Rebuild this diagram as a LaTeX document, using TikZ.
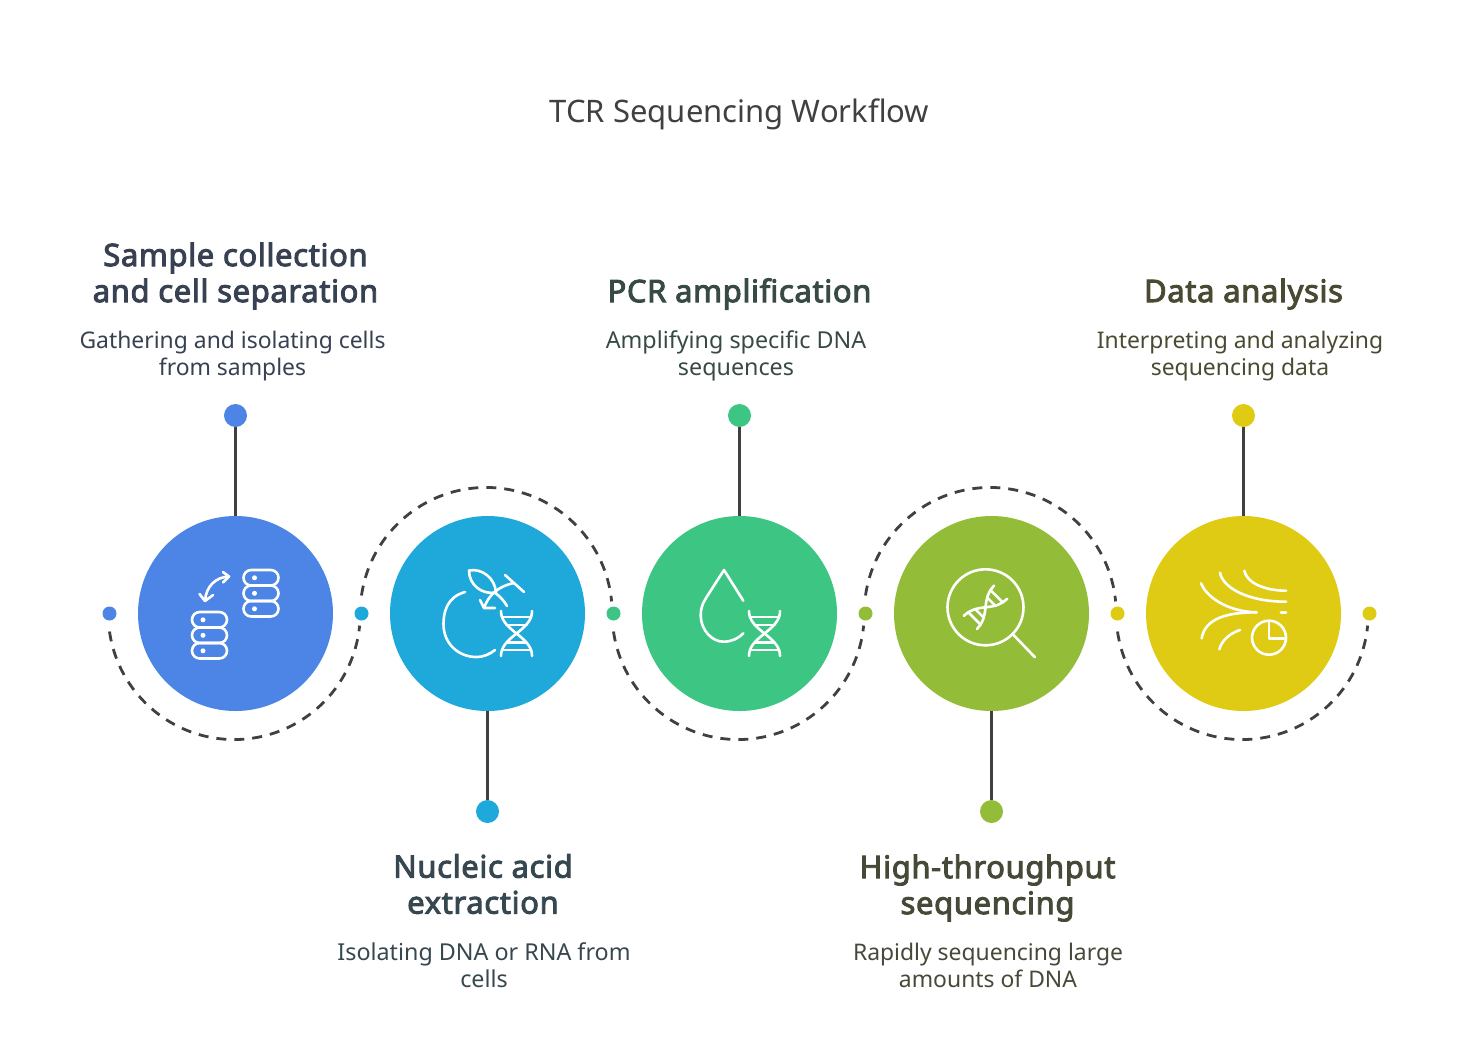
\documentclass[tikz,border=0pt]{standalone}
\usepackage{fontspec}
\setmainfont{Noto Sans}
\newfontfamily\headfont{Noto Sans}[FakeBold=3,LetterSpace=2]
\definecolor{cblue}{HTML}{4C85E6}
\definecolor{ccyan}{HTML}{1FA9DB}
\definecolor{cgreen}{HTML}{3CC583}
\definecolor{clime}{HTML}{93BD38}
\definecolor{cyel}{HTML}{DFCB13}
\definecolor{tblue}{HTML}{374151}
\definecolor{tcyan}{HTML}{37474F}
\definecolor{tgreen}{HTML}{374A45}
\definecolor{tlime}{HTML}{454A38}
\definecolor{tyel}{HTML}{4A4A32}
\definecolor{linecol}{HTML}{404040}
\tikzset{
  bigc/.style={circle,fill=#1,minimum size=195pt,inner sep=0pt,outer sep=0pt},
  pindot/.style={circle,fill=#1,minimum size=23pt,inner sep=0pt,outer sep=0pt},
  smalldot/.style={circle,fill=#1,minimum size=14pt,inner sep=0pt,outer sep=0pt},
  conn/.style={draw=linecol,line width=2.5pt},
  dashline/.style={draw=linecol,line width=2.8pt,dash pattern=on 10pt off 8pt},
  ico/.style={draw=white,line width=2.6pt,line cap=round,line join=round},
  headtxt/.style={text=#1,align=center,inner sep=0pt,font=\headfont\fontsize{31}{36}\selectfont},
  desctxt/.style={text=#1,align=center,inner sep=0pt,font=\fontsize{22.9}{27}\selectfont},
  widedesc/.style={font=\fontsize{23.3}{27}\selectfont},
}
\newcommand{\dnaicon}[1]{%
  \begin{scope}[#1]
    \draw[ico] (0.5,0) .. controls (0.5,8) and (5,14) .. (16,22.5) .. controls (27,31) and (31.5,37) .. (31.5,45);
    \draw[ico] (31.5,0) .. controls (31.5,8) and (27,14) .. (16,22.5) .. controls (5,31) and (0.5,37) .. (0.5,45);
    \draw[ico] (1.5,6) -- (30.5,6) (6,14) -- (26,14) (6,31.5) -- (26,31.5) (1.5,39) -- (30.5,39);
  \end{scope}}
\newcommand{\dbstack}[2]{%
  \begin{scope}[shift={(#1,#2)}]
    \foreach \yy in {0,15.5,31}{
      \draw[ico,rounded corners=7.7pt] (0,\yy) rectangle (35,\yy+15.5);
      \fill[white] (11,\yy+7.8) circle (2.5);
    }
  \end{scope}}
\begin{document}
\begin{tikzpicture}[x=1pt,y=-1pt]
\useasboundingbox (0,0) rectangle (1479,1047);
\node[text=linecol,inner sep=0pt,font=\fontsize{31}{36}\selectfont] (title) at (739.5,114) {TCR Sequencing Workflow};

\node[bigc=cblue] (c1) at (235.5,613.5) {};
\node[bigc=ccyan] (c2) at (487.5,613.5) {};
\node[bigc=cgreen] (c3) at (739.5,613.5) {};
\node[bigc=clime] (c4) at (991.5,613.5) {};
\node[bigc=cyel] (c5) at (1243.5,613.5) {};

\node[pindot=cblue] (p1) at (235.5,415.5) {};
\node[pindot=ccyan] (p2) at (487.5,811.5) {};
\node[pindot=cgreen] (p3) at (739.5,415.5) {};
\node[pindot=clime] (p4) at (991.5,811.5) {};
\node[pindot=cyel] (p5) at (1243.5,415.5) {};
\draw[conn] (p1) -- (c1);
\draw[conn] (p2) -- (c2);
\draw[conn] (p3) -- (c3);
\draw[conn] (p4) -- (c4);
\draw[conn] (p5) -- (c5);

\node[smalldot=cblue] (s0) at (109.5,613.5) {};
\node[smalldot=ccyan] (s1) at (361.5,613.5) {};
\node[smalldot=cgreen] (s2) at (613.5,613.5) {};
\node[smalldot=clime] (s3) at (865.5,613.5) {};
\node[smalldot=cyel] (s4) at (1117.5,613.5) {};
\node[smalldot=cyel] (s5) at (1369.5,613.5) {};

\draw[dashline] ([yshift=-18pt]s0.center) arc[start angle=171.8,end angle=5.5,radius=126];
\draw[dashline] ([yshift=18pt]s1.center) arc[start angle=188.2,end angle=354.5,radius=126];
\draw[dashline] ([yshift=-18pt]s2.center) arc[start angle=171.8,end angle=5.5,radius=126];
\draw[dashline] ([yshift=18pt]s3.center) arc[start angle=188.2,end angle=354.5,radius=126];
\draw[dashline] ([yshift=-18pt]s4.center) arc[start angle=171.8,end angle=5.5,radius=126];

\node[headtxt=tblue] (h1) at (235.5,276) {Sample collection\\and cell separation};
\node[desctxt=tblue] (d1) at (232.5,356) {Gathering and isolating cells\\from samples};
\node[headtxt=tcyan] (h2) at (483,884) {Nucleic acid\\extraction};
\node[desctxt=tcyan,widedesc] (d2) at (484,965) {Isolating DNA or RNA from\\cells};
\node[headtxt=tgreen] (h3) at (739.5,294) {PCR amplification};
\node[desctxt=tgreen,widedesc] (d3) at (736,356) {Amplifying specific DNA\\sequences};
\node[headtxt=tlime] (h4) at (987.5,888) {High-throughput\\sequencing};
\node[desctxt=tlime] (d4) at (988,965) {Rapidly sequencing large\\amounts of DNA};
\node[headtxt=tyel] (h5) at (1243.5,294) {Data analysis};
\node[desctxt=tyel] (d5) at (1240,356) {Interpreting and analyzing\\sequencing data};

% icon 1
\dbstack{243.5}{570}
\dbstack{192}{612}
\draw[ico] (229,576.5) .. controls (216,577) and (206,586) .. (205,601);
\draw[ico] (223,572) -- (229,576.5) -- (223,582.5);
\draw[ico] (199.5,594) -- (205,601) -- (213,595);

% icon 2
\draw[ico] (465,592) .. controls (447,597) and (443.5,612) .. (443.5,624) .. controls (443.5,645) and (460,657) .. (476,657) .. controls (484,657) and (490,654) .. (495,650);
\draw[ico] (495,593) .. controls (500,596) and (504,601) .. (507,606);
\draw[ico] (469,570.5) .. controls (482,568) and (495,578) .. (496,592.5) .. controls (482,595) and (469,585) .. (469,570.5);
\draw[ico] (514,583) .. controls (498,586) and (488,596) .. (484,608);
\draw[ico] (505,575) -- (524,592);
\draw[ico] (480,600) -- (484,608) -- (495,608);
\dnaicon{shift={(500.5,611)}}

% icon 3
\draw[ico] (743.3,600.7) -- (724,570) -- (706,598) .. controls (702,604) and (700.5,610) .. (700.7,616) .. controls (701,630) and (712,642) .. (724,641.7) .. controls (732,641.5) and (739,638) .. (743.3,633.3);
\dnaicon{shift={(748.5,611)}}

% icon 4
\draw[ico] (985.5,607.3) circle (38);
\draw[ico] (1013.5,635) -- (1035,657.3);
\dnaicon{shift={(985.5,607.3)},rotate=-45,xscale=0.6,yscale=0.95,shift={(-16,-22.5)}}

% icon 5
\draw[ico] (1201,583.3) .. controls (1208,600) and (1232,612) .. (1256.7,612.3);
\draw[ico] (1256.7,612.3) .. controls (1228,612.3) and (1205,618) .. (1201.7,638.3);
\draw[ico] (1220,572.7) .. controls (1223,588) and (1248,601.7) .. (1286,601.7);
\draw[ico] (1244.3,570.7) .. controls (1246.7,583) and (1265,590.7) .. (1286,590.7);
\draw[ico] (1281,612.3) -- (1286,612.3);
\draw[ico] (1219.3,649.3) .. controls (1222,640) and (1230,633.3) .. (1240,630);
\draw[ico] (1269,637.7) circle (17);
\draw[ico] (1269,622) -- (1269,638.3) -- (1284,638.3);
\end{tikzpicture}
\end{document}
